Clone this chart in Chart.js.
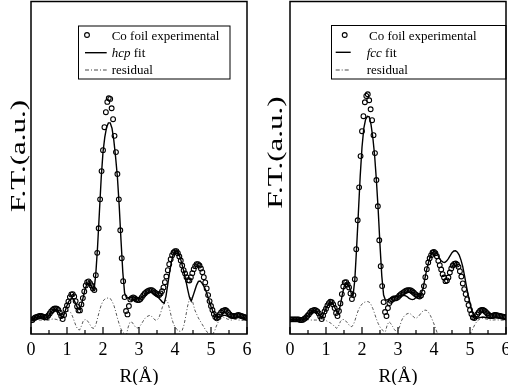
<!DOCTYPE html>
<html><head><meta charset="utf-8">
<script src="https://cdn.jsdelivr.net/npm/chart.js@4/dist/chart.umd.min.js"></script>
<style>
html,body{margin:0;padding:0;background:#fff;overflow:hidden;width:508px;height:385px}
canvas{position:absolute;top:0}
#cA{left:0}#cB{left:254px}
</style></head>
<body>
<canvas id="cA" width="254" height="385"></canvas>
<canvas id="cB" width="254" height="385"></canvas>
<script>
// ---- data (R in Å, F.T. in arbitrary units) ----
const R_EXP = [0,0.04,0.08,0.12,0.16,0.2,0.24,0.28,0.32,0.36,
0.4,0.44,0.48,0.52,0.56,0.6,0.64,0.68,0.72,0.76,
0.8,0.84,0.88,0.92,0.96,1,1.04,1.08,1.12,1.16,
1.2,1.24,1.28,1.32,1.36,1.4,1.44,1.48,1.52,1.56,
1.6,1.64,1.68,1.72,1.76,1.8,1.84,1.88,1.92,1.96,
2,2.04,2.08,2.12,2.16,2.2,2.24,2.28,2.32,2.36,
2.4,2.44,2.48,2.52,2.56,2.6,2.64,2.68,2.72,2.76,
2.8,2.84,2.88,2.92,2.96,3,3.04,3.08,3.12,3.16,
3.2,3.24,3.28,3.32,3.36,3.4,3.44,3.48,3.52,3.56,
3.6,3.64,3.68,3.72,3.76,3.8,3.84,3.88,3.92,3.96,
4,4.04,4.08,4.12,4.16,4.2,4.24,4.28,4.32,4.36,
4.4,4.44,4.48,4.52,4.56,4.6,4.64,4.68,4.72,4.76,
4.8,4.84,4.88,4.92,4.96,5,5.04,5.08,5.12,5.16,
5.2,5.24,5.28,5.32,5.36,5.4,5.44,5.48,5.52,5.56,
5.6,5.64,5.68,5.72,5.76,5.8,5.84,5.88,5.92,5.96,
6];
const R_FIT = [0,0.05,0.1,0.15,0.2,0.25,0.3,0.35,0.4,0.45,
0.5,0.55,0.6,0.65,0.7,0.75,0.8,0.85,0.9,0.95,
1,1.05,1.1,1.15,1.2,1.25,1.3,1.35,1.4,1.45,
1.5,1.55,1.6,1.65,1.7,1.75,1.8,1.85,1.9,1.95,
2,2.05,2.1,2.15,2.2,2.25,2.3,2.35,2.4,2.45,
2.5,2.55,2.6,2.65,2.7,2.75,2.8,2.85,2.9,2.95,
3,3.05,3.1,3.15,3.2,3.25,3.3,3.35,3.4,3.45,
3.5,3.55,3.6,3.65,3.7,3.75,3.8,3.85,3.9,3.95,
4,4.05,4.1,4.15,4.2,4.25,4.3,4.35,4.4,4.45,
4.5,4.55,4.6,4.65,4.7,4.75,4.8,4.85,4.9,4.95,
5,5.05,5.1,5.15,5.2,5.25,5.3,5.35,5.4,5.45,
5.5,5.55,5.6,5.65,5.7,5.75,5.8,5.85,5.9,5.95,
6];

// left panel (hcp)
const EXP_HCP = [4.1,4.2,4.7,5.0,5.1,5.3,5.4,5.4,5.3,5.1,
5.0,5.1,5.6,6.2,6.8,7.2,7.6,7.7,7.6,7.2,
6.4,5.4,4.5,5.7,7.4,8.6,9.8,11.1,11.9,12.0,
11.3,9.9,8.3,7.1,7.1,8.9,10.8,12.8,14.6,15.6,
15.8,15.3,14.6,13.7,13.2,17.7,24.4,31.8,40.5,49.0,
55.3,62.2,66.7,69.8,70.9,70.7,67.9,64.6,59.6,54.7,
48.1,40.5,31.2,22.8,15.9,11.1,6.9,5.9,8.4,10.4,
10.8,11.0,10.8,10.4,10.2,10.2,10.5,11.1,11.7,12.2,
12.6,12.9,13.1,13.2,13.2,12.9,12.5,12.2,11.9,11.7,
12.2,12.9,14.0,15.6,17.3,19.2,21.0,22.5,23.7,24.5,
24.9,24.9,24.3,23.3,22.1,20.6,19.2,18.2,17.1,16.2,
16.1,17.1,18.3,19.5,20.4,21.0,21.0,20.6,19.7,18.6,
17.1,15.5,13.7,11.7,9.9,8.4,7.2,6.0,5.1,4.7,
5.1,5.9,6.5,6.9,7.1,7.2,6.9,6.4,5.9,5.5,
5.4,5.4,5.4,5.6,5.7,5.6,5.4,5.3,5.1,5.0,
4.8];
const FIT_HCP = [4.1,4.4,4.8,5.0,5.2,5.3,5.2,5.0,4.8,5.0,
5.6,6.5,7.1,7.4,7.4,6.9,6.0,5.1,5.3,6.9,
8.6,9.8,10.5,10.7,10.1,8.9,7.7,7.4,8.7,11.1,
13.4,14.9,15.3,14.9,13.8,13.2,18.0,26.4,36.6,46.9,
54.7,59.2,62.2,63.5,63.5,61.9,58.3,53.2,47.2,38.6,
28.2,18.6,12.3,11.0,10.8,11.0,11.1,11.1,11.0,10.7,
10.5,10.8,11.3,11.7,12.2,12.5,12.6,12.5,12.2,11.7,
11.3,10.8,10.2,9.6,9.3,11.4,15.0,18.6,21.7,24.0,
24.9,25.0,24.3,22.8,20.7,18.6,16.2,13.5,11.1,9.9,
11.4,13.1,14.7,15.8,15.9,15.3,14.4,13.2,11.7,9.9,
8.3,6.9,5.9,5.1,5.0,5.1,5.4,5.6,5.6,5.4,
5.2,5.1,5.0,5.0,5.0,5.1,5.1,5.0,4.9,4.8,
4.7];
const RES_HCP = [3.9,4.1,4.1,4.2,4.2,4.2,4.2,4.1,4.1,4.1,
4.2,4.4,4.5,4.5,4.4,4.2,4.1,4.5,5.4,6.3,
6.8,6.9,6.5,5.4,3.9,2.4,1.4,1.2,2.4,3.9,
4.4,4.2,3.5,2.6,1.8,1.7,2.7,4.8,6.9,8.7,
9.9,10.5,10.8,10.8,10.7,9.9,8.7,6.9,4.8,3.0,
1.5,0.5,0,-0.3,2.1,3.6,3.6,2.9,2.1,1.8,
2.0,2.7,3.6,4.5,5.1,5.4,5.6,5.3,4.7,4.2,
4.2,4.8,6.3,8.1,9.6,10.2,9.5,7.5,5.1,3.3,
2.1,1.4,0.9,0.8,1.1,2.7,5.4,8.4,10.5,11.1,
9.3,7.2,6.0,4.8,3.9,3.0,2.1,1.2,0.5,0,
-0.3,0,0.9,2.4,3.6,4.4,4.8,5.0,4.8,4.5,
4.4,4.2,4.2,4.4,4.4,4.2,4.2,4.1,4.1,4.1,
4.1];

// right panel (fcc)
const EXP_FCC = [4.4,4.4,4.4,4.4,4.4,4.4,4.4,4.2,4.2,4.3,
4.6,4.9,5.4,5.9,6.5,6.9,7.1,7.2,7.1,6.8,
6.2,5.3,4.5,5.6,6.8,7.6,8.6,9.3,9.7,9.6,
8.9,7.8,6.3,5.4,6.9,9.2,12.0,14.3,15.5,15.6,
14.9,14.0,12.2,10.5,11.7,16.5,25.5,34.2,44.1,53.5,
61.0,65.5,69.7,71.6,72.1,70.3,67.6,64.3,59.8,54.4,
46.3,38.4,28.2,20.4,14.4,9.6,6.6,5.4,7.8,9.3,
10.0,10.4,10.7,10.7,10.8,11.1,11.6,12.0,12.3,12.6,
12.9,13.1,13.2,13.2,13.1,12.8,12.4,12.0,11.7,11.4,
11.3,11.6,12.5,14.4,17.1,19.5,21.5,22.8,23.7,24.5,
24.7,24.3,23.4,22.0,20.7,19.4,18.0,17.0,15.9,16.1,
17.0,18.5,19.7,20.6,21.1,21.2,20.9,20.2,18.9,17.3,
15.2,13.5,12.0,10.4,8.7,7.2,6.0,5.0,4.8,5.3,
5.9,6.5,7.0,7.2,7.2,7.0,6.6,6.2,5.7,5.5,
5.4,5.5,5.7,5.7,5.6,5.5,5.4,5.3,5.2,5.1,
5.0];
const FIT_FCC = [4.35,4.35,4.35,4.35,4.35,4.26,4.2,4.26,4.5,4.95,
5.56,6.31,6.76,7.06,7.06,6.76,6.01,5.11,5.11,6.46,
7.66,8.71,9.31,9.46,9.01,7.81,6.61,6.61,8.71,11.71,
14.11,15.32,15.17,14.11,12.31,11.41,16.22,25.83,36.64,47.45,
56.16,61.86,64.56,65.47,65.32,63.06,59.16,53.75,46.25,37.24,
26.73,17.42,11.71,10.21,10.21,10.51,10.81,11.02,11.17,11.26,
11.35,11.47,11.56,11.62,11.56,11.26,10.81,10.51,10.36,10.51,
10.96,11.26,11.41,12.31,13.81,16.82,19.52,21.62,23.42,24.47,
24.77,24.62,23.87,22.82,22.01,21.62,21.53,21.92,22.67,23.57,
24.47,24.98,25.02,24.62,23.72,22.22,20.21,17.42,14.41,11.71,
9.31,7.06,5.56,4.8,4.71,4.86,5.02,5.11,5.05,4.95,
4.8,4.74,4.74,4.8,4.86,4.92,4.89,4.8,4.74,4.71,
4.65];
const RES_FCC = [4.2,4.2,4.2,4.2,4.2,4.2,4.2,4.2,4.35,4.35,
4.35,4.2,4.2,4.2,4.2,4.2,4.2,4.35,4.5,4.35,
4.05,3.75,3.45,3.15,2.7,2.1,1.71,2.4,3.75,4.35,
4.35,3.9,3.3,2.55,2.19,2.55,3.9,5.71,7.21,8.26,
9.01,9.46,9.67,9.76,9.61,8.86,7.66,6.16,4.5,3.15,
2.1,1.35,0.9,0.69,2.7,3.69,3.15,2.25,1.35,0.75,
0.9,2.4,4.05,5.11,5.71,6.07,6.22,6.01,5.56,4.95,
4.71,5.11,5.71,6.46,6.97,7.21,7.06,6.46,5.56,4.35,
3.0,1.5,0,-1.5,-3,-4,-4.5,-5,-5,-5,
-4.5,-4,-4,-4,-4,-4,-4,-3.5,-2.5,-1.2,
0,0.9,2.1,3.15,3.9,4.35,4.65,4.71,4.65,4.5,
4.35,4.2,4.2,4.2,4.26,4.26,4.2,4.2,4.14,4.11,
4.05];

const X_MAJOR = [0,1,2,3,4,5,6];
const X_MINOR = [0.5,1.5,2.5,3.5,4.5,5.5];
const X_TITLE = 'R(Å)';
const Y_TITLE = 'F.T.(a.u.)';
const LEG_EXP = 'Co foil experimental';
const LEG_RES = 'residual';

const SERIF = "'Liberation Serif','Times New Roman',serif";

function pts(xs, ys){ return xs.map((x,i)=>({x:x, y:ys[i]})); }

const deco = {
  id:'deco',
  afterDraw(chart, args, o){
    const ctx = chart.ctx, a = chart.chartArea, xs = chart.scales.x;
    ctx.save();
    ctx.strokeStyle = '#000'; ctx.fillStyle = '#000';
    ctx.lineWidth = 1.5;
    ctx.strokeRect(a.left, a.top, a.right - a.left, a.bottom - a.top);
    ctx.lineWidth = 1.2;
    X_MAJOR.forEach(v=>{ const p = xs.getPixelForValue(v); ctx.beginPath(); ctx.moveTo(p, a.bottom); ctx.lineTo(p, a.bottom-7); ctx.stroke(); });
    X_MINOR.forEach(v=>{ const p = xs.getPixelForValue(v); ctx.beginPath(); ctx.moveTo(p, a.bottom); ctx.lineTo(p, a.bottom-4); ctx.stroke(); });
    // axis titles
    ctx.font = '19px ' + SERIF; ctx.textAlign = 'center'; ctx.textBaseline = 'alphabetic';
    ctx.fillText(X_TITLE, (a.left + a.right)/2, 381.5);
    ctx.save();
    ctx.translate(o.yx, o.yy); ctx.rotate(-Math.PI/2); ctx.scale(1.55, 1);
    ctx.font = '20px ' + SERIF;
    ctx.fillText(Y_TITLE, 0, 0);
    ctx.restore();
    // legend
    const L = o.leg;
    ctx.lineWidth = 1;
    ctx.strokeRect(L.x, L.y, L.w, L.h);
    ctx.lineWidth = 1.1;
    ctx.beginPath(); ctx.arc(L.mx, L.r1, 2.4, 0, Math.PI*2); ctx.stroke();
    ctx.font = '13px ' + SERIF; ctx.textAlign = 'left';
    ctx.fillText(LEG_EXP, L.t1, L.b1);
    ctx.lineWidth = 1.4;
    ctx.beginPath(); ctx.moveTo(L.l0, L.r2); ctx.lineTo(L.l1, L.r2); ctx.stroke();
    ctx.font = 'italic 13px ' + SERIF;
    ctx.fillText(o.fitName, L.t2, L.b2);
    const w = ctx.measureText(o.fitName).width;
    ctx.font = '13px ' + SERIF;
    ctx.fillText(' fit', L.t2 + w, L.b2);
    ctx.lineWidth = 0.9; ctx.strokeStyle = '#333';
    ctx.setLineDash([4,2,1,2]);
    ctx.beginPath(); ctx.moveTo(L.l0, L.r3); ctx.lineTo(L.l1, L.r3); ctx.stroke();
    ctx.setLineDash([]);
    ctx.fillText(LEG_RES, L.t2, L.b3);
    ctx.restore();
  }
};

function build(id, exp, fit, res, cfg){
  return new Chart(document.getElementById(id), {
    type:'line',
    data:{ datasets:[
      { data: pts(R_EXP, exp), showLine:false, pointStyle:'circle', pointRadius:2.4, pointBorderWidth:1.1,
        pointBorderColor:'#000', pointBackgroundColor:'rgba(0,0,0,0)', borderColor:'#000' },
      { data: pts(R_FIT, fit), borderColor:'#000', borderWidth:1.4, pointRadius:0, fill:false },
      { data: pts(R_FIT, res), borderColor:'#444', borderWidth:0.9, borderDash:[3,2,1,2], pointRadius:0, fill:false }
    ]},
    options:{
      responsive:false, animation:false, devicePixelRatio:1,
      layout:{ autoPadding:false, padding:{ left:cfg.pl, right:cfg.pr, top:1.5, bottom:0 } },
      plugins:{ legend:{display:false}, tooltip:{enabled:false}, deco: cfg.deco },
      scales:{
        x:{ type:'linear', min:0, max:6,
            grid:{display:false, drawTicks:false}, border:{display:false},
            ticks:{ stepSize:1, color:'#000', font:{family:SERIF, size:18}, padding:5, maxRotation:0, autoSkip:false },
            afterFit(s){ s.height = 51; s.paddingLeft = 0; s.paddingRight = 0; } },
        y:{ min:0, max:100,
            grid:{display:false, drawTicks:false}, border:{display:false},
            ticks:{display:false},
            afterFit(s){ s.width = cfg.yw; s.paddingTop = 0; s.paddingBottom = 0; } }
      }
    },
    plugins:[deco]
  });
}

build('cA', EXP_HCP, FIT_HCP, RES_HCP, {
  pl:1, pr:7, yw:30,
  deco:{ yx:24.5, yy:156, fitName:'hcp',
    leg:{ x:78.5, y:26, w:151.5, h:53, mx:87, r1:35, r2:52.7, r3:70, l0:85, l1:106.7, t1:111.7, t2:111.7, b1:39.5, b2:56.5, b3:73.5 } }
});
build('cB', EXP_FCC, FIT_FCC, RES_FCC, {
  pl:0, pr:2, yw:36,
  deco:{ yx:27.5, yy:152.5, fitName:'fcc',
    leg:{ x:77.5, y:25.5, w:174.5, h:53.5, mx:90.7, r1:35, r2:52.3, r3:70, l0:81.7, l1:96.7, t1:115, t2:112.7, b1:39.5, b2:56.5, b3:73.5 } }
});
</script>
</body></html>
